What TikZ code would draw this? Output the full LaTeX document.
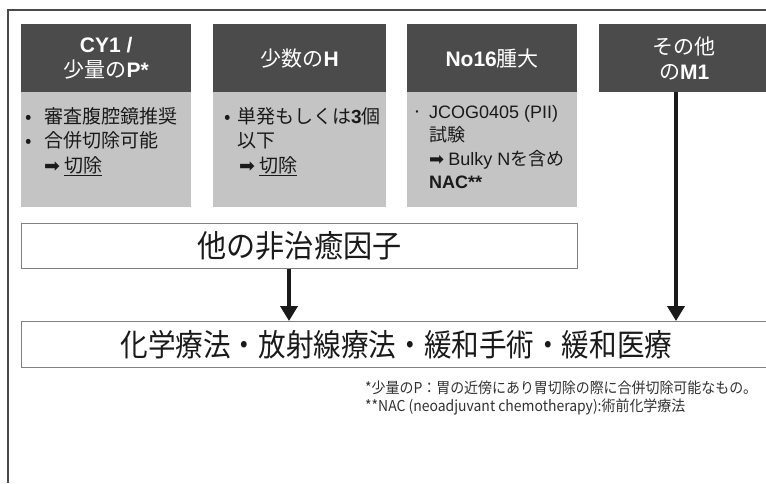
\documentclass[tikz,border=0pt]{standalone}
\usepackage{fontspec}
\usepackage{graphicx}
\setmainfont{Noto Sans CJK JP}
\newfontfamily\latf{Liberation Sans}
\newfontfamily\symf{DejaVu Sans}
\usetikzlibrary{arrows.meta}
\definecolor{hdr}{HTML}{4B4B4B}
\definecolor{bdy}{HTML}{C4C4C4}
\definecolor{frm}{HTML}{4A4A4A}
\definecolor{ink}{HTML}{1A1A1A}
\newcommand\fsz[2]{\fontsize{#1}{#2}\selectfont}
\newcommand\bulA{\makebox[19pt][l]{•}}
\newcommand\bulB{\makebox[13pt][l]{•}}
\newcommand\bulC{\makebox[17pt][l]{·}}
\begin{document}
\begin{tikzpicture}[x=1pt,y=-1pt,
 hdrbox/.style={fill=hdr, text=white, minimum width=170pt, minimum height=68pt, anchor=north west, inner sep=0pt, align=center, font=\fsz{21}{25}},
 bdybox/.style={fill=bdy, minimum width=170pt, minimum height=115pt, anchor=north west, inner sep=0pt},
 bdytxt/.style={anchor=north west, align=left, inner sep=0pt, text=ink, font=\fsz{19}{24.5}},
 wbox/.style={draw=gray, line width=0.9pt, fill=white, anchor=north west, inner sep=0pt, text=ink},
 arr/.style={draw=ink, line width=4.5pt, -{Triangle[length=15pt,width=17pt]}}]
\useasboundingbox (0,0) rectangle (766,483);
\draw[frm, line width=1.5pt] (8,483) -- (8,10) -- (766,10);
% headers
\node[hdrbox] (h1) at (21,24) {{\latf\bfseries CY1 /}\\少量の{\latf\bfseries P*}};
\node[hdrbox, minimum width=173pt] (h2) at (213,24) {少数の{\latf\bfseries H}};
\node[hdrbox] (h3) at (407,24) {{\latf\bfseries No16}腫大};
\node[hdrbox] (h4) at (599,24) {その他\\の{\latf\bfseries M1}};
% bodies
\node[bdybox] (b1) at (21,92) {};
\node[bdybox, minimum width=173pt] (b2) at (213,92) {};
\node[bdybox] (b3) at (407,92) {};
\node[bdytxt] (t1) at ([shift={(4,15)}]b1.north west)
 {\bulA 審査腹腔鏡推奨\\\bulA 合併切除可能\\\hspace*{19pt}{\symf ➡} \underline{切除}};
\node[bdytxt] (t2) at ([shift={(11,15)}]b2.north west)
 {\bulB 単発もしくは{\latf\bfseries 3}個\\\hspace*{13pt}以下\\\hspace*{15pt}{\symf ➡} \underline{切除}};
\node[bdytxt, font=\fsz{18}{23.5}] (t3) at ([shift={(5,13)}]b3.north west)
 {\bulC{\latf JCOG0405 (PII)}\\\hspace*{17pt}試験\\\hspace*{17pt}{\symf ➡} {\latf Bulky N}を含め\\\hspace*{17pt}{\latf\bfseries NAC**}};
% lower boxes
\node[wbox, minimum width=556pt, minimum height=45pt, font=\fsz{31}{34}] (mid) at (21,223) {\scalebox{0.94}[1]{他の非治癒因子}};
\node[wbox, minimum width=750pt, minimum height=46pt, font=\fsz{31}{34}] (bot) at (21,321) {\scalebox{0.89}[1]{化学療法・放射線療法・緩和手術・緩和医療}};
% arrows
\coordinate (ax1) at (289,0);
\coordinate (ax2) at (676,0);
\draw[arr] (mid.south -| ax1) -- (bot.north -| ax1);
\draw[arr] (h4.south -| ax2) -- (bot.north -| ax2);
% footnotes
\node[anchor=north west, align=left, inner sep=0pt, text=ink!90, font=\fsz{15}{18}] (fn) at (365,381)
 {\scalebox{0.93}[1]{*少量のP：胃の近傍にあり胃切除の際に合併切除可能なもの。}\\\scalebox{0.93}[1]{**NAC (neoadjuvant chemotherapy):術前化学療法}};
\end{tikzpicture}
\end{document}
